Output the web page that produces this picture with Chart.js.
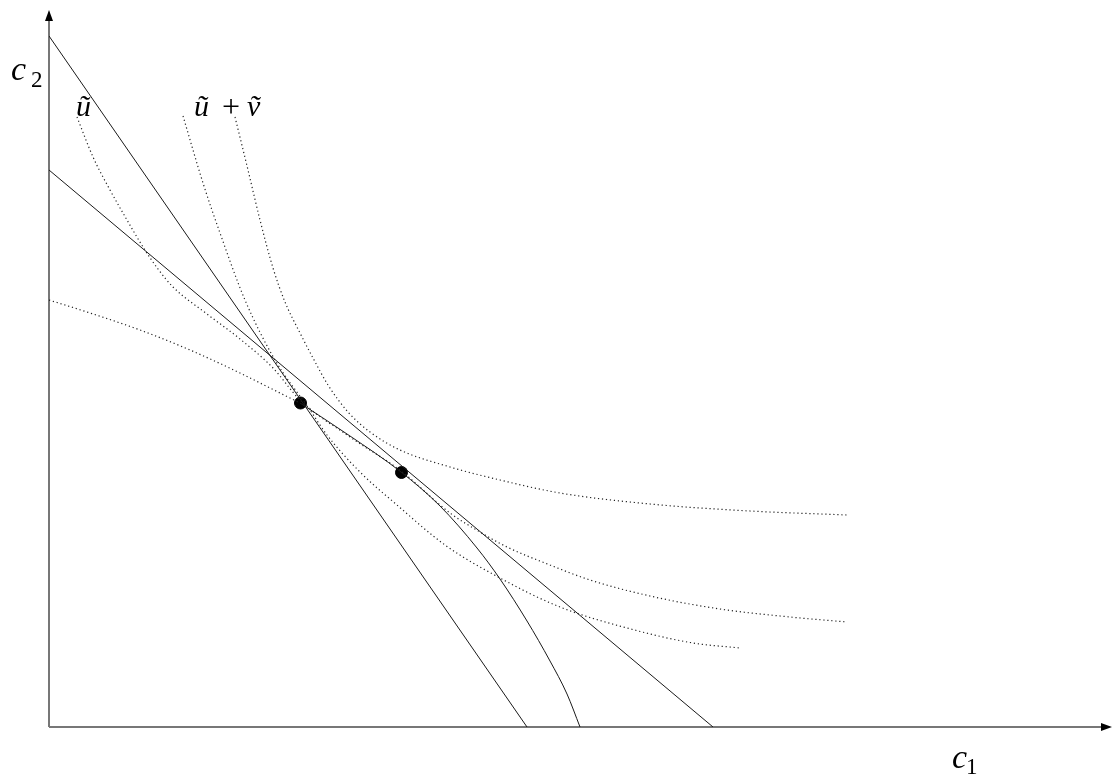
<!DOCTYPE html>
<html>
<head>
<meta charset="utf-8">
<title>c1 c2 diagram</title>
<script src="https://cdn.jsdelivr.net/npm/chart.js@4.4.1/dist/chart.umd.min.js"></script>
<style>
  html, body { margin: 0; padding: 0; background: #fff; overflow: hidden; }
  #wrap { width: 1112px; height: 783px; position: relative; }
  #wrap canvas { display: block; }
</style>
</head>
<body>
<div id="wrap"><canvas id="diagram"></canvas></div>
<script>
// values, x = c1, y = c2 (1 unit = 100px)

const xRange = [0, 10.63];
const yRange = [0, 7.15];

// straight lines
const steepLine = [[0, 6.91], [4.78, 0]];
const flatLine = [[0, 5.57], [6.64, 0]];

// frontier: dotted part up to the first dot, solid after it
const frontierDotted = [[0, 4.27], [0.41, 4.14], [0.91, 3.97], [1.41, 3.77], [1.91, 3.54], [2.21, 3.39], [2.51, 3.24]];
const frontierSolid = [[2.51, 3.24], [3.01, 2.91], [3.52, 2.55], [3.91, 2.21], [4.28, 1.79], [4.51, 1.48],
  [4.78, 1.06], [5.01, 0.66], [5.18, 0.33], [5.31, 0]];

// indifference curves (dotted)
const curveU = [[0.28, 6.10], [0.44, 5.70], [0.61, 5.37], [0.78, 5.07], [0.94, 4.80], [1.09, 4.58], [1.24, 4.40],
  [1.58, 4.13], [1.91, 3.88], [2.24, 3.59], [2.51, 3.27], [3.01, 2.90], [3.52, 2.56], [4.01, 2.14], [4.31, 1.95],
  [4.58, 1.80], [5.01, 1.62], [5.41, 1.47], [6.01, 1.31], [6.71, 1.18], [7.41, 1.10], [7.98, 1.05]];
const curveMid = [[1.34, 6.11], [1.54, 5.44], [1.71, 4.94], [1.96, 4.27], [2.26, 3.67], [2.61, 3.17], [2.78, 2.92],
  [3.11, 2.55], [3.48, 2.22], [3.96, 1.82], [4.51, 1.49], [5.11, 1.20], [5.78, 0.99], [6.44, 0.84], [6.91, 0.79]];
const curveTop = [[1.86, 6.10], [1.99, 5.57], [2.11, 5.07], [2.24, 4.59], [2.36, 4.25], [2.51, 3.94], [2.64, 3.69],
  [2.79, 3.42], [2.99, 3.15], [3.21, 2.95], [3.51, 2.77], [4.01, 2.60], [4.51, 2.47], [5.11, 2.34], [6.01, 2.23],
  [7.01, 2.16], [7.98, 2.12]];

// the two marked points
const dots = [[2.515, 3.24], [3.525, 2.545]];

const serif = '"Liberation Serif", "DejaVu Serif", serif';

function pts(arr) {
  return arr.map(p => ({ x: p[0], y: p[1] }));
}

function drawChart() {

  const canvas = document.getElementById("diagram");
  if (!canvas) {
    console.log("diagram canvas NOT found");
    return;
  }
  const ctx = canvas.getContext("2d");

  const solid = { borderColor: '#1a1a1a', borderWidth: 1, pointRadius: 0, showLine: true, fill: false };
  const dotted = { borderColor: '#222', borderWidth: 1.2, borderDash: [1.2, 2.8], pointRadius: 0, showLine: true,
    fill: false, cubicInterpolationMode: 'monotone' };

  // axes with arrow heads + the labels
  const axesPlugin = {
    id: 'axes',
    beforeDatasetsDraw(chart) {
      const c = chart.ctx;
      const x0 = chart.scales.x.getPixelForValue(0);
      const y0 = chart.scales.y.getPixelForValue(0);
      c.save();
      c.strokeStyle = '#777';
      c.lineWidth = 2;
      c.beginPath();
      c.moveTo(x0, y0);
      c.lineTo(1104, y0);
      c.moveTo(x0, y0);
      c.lineTo(x0, 18);
      c.stroke();
      c.fillStyle = '#000';
      c.beginPath();
      c.moveTo(1112, y0);
      c.lineTo(1101, y0 - 4);
      c.lineTo(1101, y0 + 4);
      c.closePath();
      c.fill();
      c.beginPath();
      c.moveTo(x0, 10);
      c.lineTo(x0 - 4, 21);
      c.lineTo(x0 + 4, 21);
      c.closePath();
      c.fill();
      c.restore();
    },
    afterDraw(chart) {
      const c = chart.ctx;
      c.save();
      c.fillStyle = '#000';
      c.textBaseline = 'alphabetic';
      // axis names
      c.font = 'italic 34px ' + serif;
      c.fillText('c', 11, 80);
      c.fillText('c', 952, 768);
      c.font = '23px ' + serif;
      c.fillText('2', 31, 87);
      c.fillText('1', 966, 774);
      // curve names
      c.font = 'italic 30px ' + serif;
      c.fillText('ũ', 76, 116);
      c.fillText('ũ', 194, 116);
      c.fillText('ṽ', 247, 116);
      c.font = '32px ' + serif;
      c.fillText('+', 222, 117);
      c.restore();
    }
  };

  new Chart(ctx, {
    type: 'scatter',
    data: {
      datasets: [
        Object.assign({ label: 'steep', data: pts(steepLine) }, solid),
        Object.assign({ label: 'flat', data: pts(flatLine) }, solid),
        Object.assign({ label: 'frontier dotted', data: pts(frontierDotted) }, dotted),
        Object.assign({ label: 'frontier', data: pts(frontierSolid), cubicInterpolationMode: 'monotone' }, solid),
        Object.assign({ label: 'u', data: pts(curveU) }, dotted),
        Object.assign({ label: 'mid', data: pts(curveMid) }, dotted),
        Object.assign({ label: 'u+v', data: pts(curveTop) }, dotted),
        {
          label: 'dots',
          data: pts(dots),
          pointRadius: 6,
          pointBackgroundColor: '#000',
          pointBorderColor: '#000',
          showLine: false
        }
      ]
    },
    options: {
      responsive: true,
      maintainAspectRatio: false,
      animation: false,
      layout: { autoPadding: false, padding: { left: 49, right: 0, top: 12, bottom: 56 } },
      plugins: { legend: { display: false }, tooltip: { enabled: false } },
      scales: {
        x: { type: 'linear', min: xRange[0], max: xRange[1], display: false },
        y: { type: 'linear', min: yRange[0], max: yRange[1], display: false }
      }
    },
    plugins: [axesPlugin]
  });
}

document.addEventListener("DOMContentLoaded", function () {
  // make sure the serif font is ready before the canvas text is drawn
  Promise.all([
    document.fonts.load('italic 34px "Liberation Serif"'),
    document.fonts.load('23px "Liberation Serif"')
  ]).then(drawChart, drawChart);
});
</script>
</body>
</html>
